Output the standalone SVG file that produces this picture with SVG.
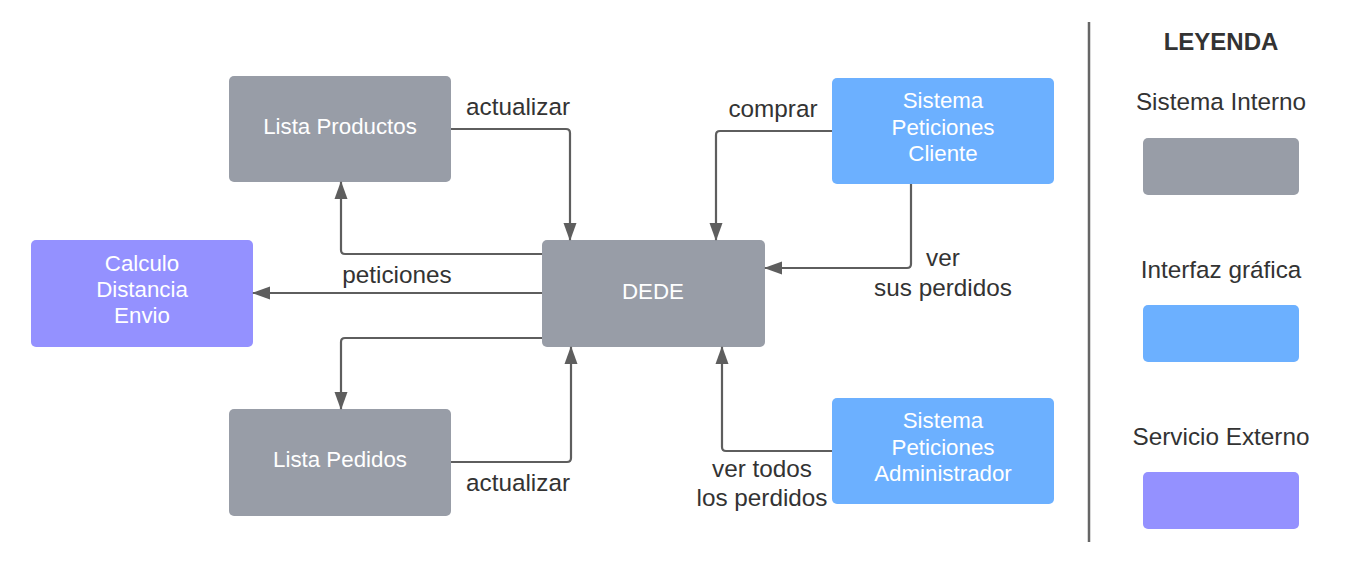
<svg xmlns="http://www.w3.org/2000/svg" width="1347" height="562" viewBox="0 0 1347 562">
<defs>
<marker id="ah" markerUnits="userSpaceOnUse" markerWidth="18" markerHeight="14" viewBox="0 0 18 14" refX="17" refY="7" orient="auto">
<path d="M0,0.5 L18,7 L0,13.5 Z" fill="#5e5e5e"/>
</marker>
<style>
.n rect{rx:5px}
.gray{fill:#989da7}
.blue{fill:#6cb0ff}
.purple{fill:#9491ff}
.nt{font-family:"Liberation Sans",Arial,sans-serif;font-size:22.3px;fill:#ffffff;text-anchor:middle}
.lb{font-family:"Liberation Sans",Arial,sans-serif;font-size:24.3px;fill:#333333;text-anchor:middle}
.c path{fill:none;stroke:#5e5e5e;stroke-width:2.2;marker-end:url(#ah)}
</style>
</defs>
<rect width="1347" height="562" fill="#ffffff"/>
<g id="n-lista-productos" class="n"><rect class="gray" x="229" y="76" width="222" height="106"/><text class="nt" x="340" y="134">Lista Productos</text></g>
<g id="n-dede" class="n"><rect class="gray" x="542" y="240" width="223" height="107"/><text class="nt" x="653" y="299">DEDE</text></g>
<g id="n-calculo" class="n"><rect class="purple" x="31" y="240" width="222" height="107"/><text class="nt" x="142" y="271">Calculo</text><text class="nt" x="142" y="297">Distancia</text><text class="nt" x="142" y="323">Envio</text></g>
<g id="n-lista-pedidos" class="n"><rect class="gray" x="229" y="409" width="222" height="107"/><text class="nt" x="340" y="467">Lista Pedidos</text></g>
<g id="n-cliente" class="n"><rect class="blue" x="832" y="78" width="222" height="106"/><text class="nt" x="943" y="108">Sistema</text><text class="nt" x="943" y="135">Peticiones</text><text class="nt" x="943" y="161">Cliente</text></g>
<g id="n-admin" class="n"><rect class="blue" x="832" y="398" width="222" height="106"/><text class="nt" x="943" y="428">Sistema</text><text class="nt" x="943" y="455">Peticiones</text><text class="nt" x="943" y="481">Administrador</text></g>
<g id="connectors" class="c">
<path d="M451,129 H566 Q570,129 570,133 V240"/>
<path d="M542,254 H345 Q341,254 341,250 V182"/>
<path d="M542,293 H253"/>
<path d="M542,338 H345 Q341,338 341,342 V409"/>
<path d="M451,462 H567 Q571,462 571,458 V347"/>
<path d="M832,131 H720 Q716,131 716,135 V240"/>
<path d="M911,184 V264 Q911,268 907,268 H765"/>
<path d="M832,451 H726 Q722,451 722,447 V347"/>
</g>
<g id="labels">
<text class="lb" x="518" y="115">actualizar</text>
<text class="lb" x="397" y="283">peticiones</text>
<text class="lb" x="518" y="491">actualizar</text>
<text class="lb" x="773" y="117">comprar</text>
<text class="lb" x="943" y="266">ver</text>
<text class="lb" x="943" y="296">sus perdidos</text>
<text class="lb" x="762" y="477">ver todos</text>
<text class="lb" x="762" y="506">los perdidos</text>
</g>
<g id="legend">
<line x1="1089" y1="22" x2="1089" y2="542" stroke="#666666" stroke-width="2.5"/>
<text class="lb" x="1221" y="50" style="font-weight:bold;font-size:24px">LEYENDA</text>
<text class="lb" x="1221" y="110">Sistema Interno</text>
<rect class="gray" x="1143" y="138" width="156" height="57" rx="5"/>
<text class="lb" x="1221" y="278">Interfaz gráfica</text>
<rect class="blue" x="1143" y="305" width="156" height="57" rx="5"/>
<text class="lb" x="1221" y="445">Servicio Externo</text>
<rect class="purple" x="1143" y="472" width="156" height="57" rx="5"/>
</g>
</svg>
